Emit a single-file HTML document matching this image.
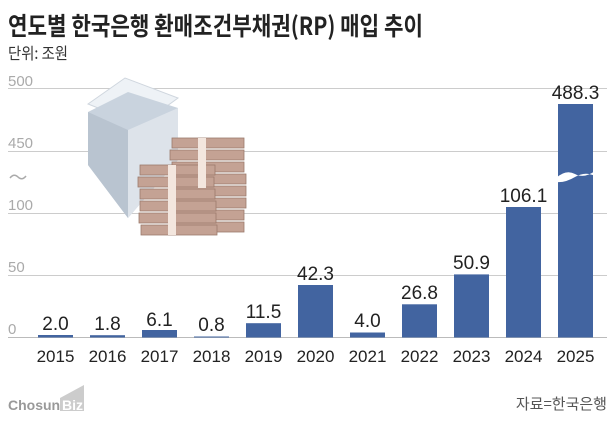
<!DOCTYPE html>
<html><head><meta charset="utf-8"><style>
body{margin:0;background:#fff;}
svg{display:block;font-family:"Liberation Sans","Noto Sans CJK KR",sans-serif;}
</style></head><body>
<svg width="616" height="425" viewBox="0 0 616 425">
<text x="8" y="35" font-size="25" font-weight="bold" fill="#222" textLength="415" lengthAdjust="spacingAndGlyphs" font-family="Noto Sans CJK KR, sans-serif">연도별 한국은행 환매조건부채권(RP) 매입 추이</text>
<text x="8" y="59" font-size="16" fill="#333" textLength="60" lengthAdjust="spacingAndGlyphs" font-family="Noto Sans CJK KR, sans-serif">단위: 조원</text>
<g stroke="#ccc" stroke-width="1">
<line x1="8" y1="88.5" x2="607" y2="88.5"/><line x1="8" y1="151.5" x2="607" y2="151.5"/>
<line x1="8" y1="213.5" x2="607" y2="213.5"/><line x1="8" y1="275.5" x2="607" y2="275.5"/>
<line x1="8" y1="337.5" x2="607" y2="337.5" stroke="#bbb"/>
</g>
<g font-size="15" fill="#aaa">
<text x="8" y="86">500</text><text x="8" y="148">450</text><text x="8" y="210">100</text><text x="8" y="272">50</text><text x="8" y="334">0</text>
</g>
<path d="M10 178 q4 -5 8 -1 t8 -1" stroke="#aaa" fill="none" stroke-width="1.5"/>
<polygon points="88,104 125,78 178,98 141,125" fill="#eef2f6" stroke="#cfd6de"/>
<polygon points="88,112 128,92 178,108 178,160 128,218 88,165" fill="#c9d3de"/>
<polygon points="88,112 128,130 128,218 88,165" fill="#b9c4d0"/>
<polygon points="128,130 178,108 178,160 128,218" fill="#dde3ea"/>
<g fill="#c4a294" stroke="#9b7a6c" stroke-width="0.8">
<rect x="172" y="138" width="72" height="10"/><rect x="170" y="150" width="74" height="10"/><rect x="172" y="162" width="72" height="10"/>
<rect x="174" y="174" width="72" height="10"/><rect x="172" y="186" width="74" height="10"/><rect x="174" y="198" width="72" height="10"/>
<rect x="172" y="210" width="72" height="10"/><rect x="174" y="222" width="70" height="10"/>
<rect x="140" y="165" width="75" height="10"/><rect x="138" y="177" width="76" height="10"/><rect x="140" y="189" width="75" height="10"/>
<rect x="140" y="201" width="76" height="10"/><rect x="139" y="213" width="77" height="10"/><rect x="141" y="225" width="76" height="10"/>
</g>
<rect x="168" y="165" width="8" height="70" fill="#f3e6de"/>
<rect x="198" y="138" width="8" height="50" fill="#f3e6de"/>
<g fill="#4264a0">
<rect x="38" y="335" width="35" height="2.5"/>
<rect x="90" y="335.2" width="35" height="2.3"/>
<rect x="142" y="330" width="35" height="7.5"/>
<rect x="194" y="336.5" width="35" height="1"/>
<rect x="246" y="323.2" width="35" height="14.3"/>
<rect x="298" y="285" width="35" height="52.5"/>
<rect x="350" y="332.5" width="35" height="5"/>
<rect x="402" y="304.3" width="35" height="33.2"/>
<rect x="454" y="274.4" width="35" height="63.1"/>
<rect x="506" y="207" width="35" height="130.5"/>
<rect x="558" y="104" width="35" height="233.5"/>
</g>
<path d="M556 178 q10 -9 19 -4 t20 -3 v5 q-10 -5 -20 1 t-19 5z" fill="#fff"/>
<g font-size="19" fill="#222" text-anchor="middle">
<text x="55.5" y="330">2.0</text><text x="107.5" y="330">1.8</text><text x="159.5" y="326">6.1</text>
<text x="211.5" y="331">0.8</text><text x="263.5" y="318">11.5</text><text x="315.5" y="280">42.3</text>
<text x="367.5" y="327">4.0</text><text x="419.5" y="299">26.8</text><text x="471.5" y="269">50.9</text>
<text x="523.5" y="202">106.1</text><text x="575.5" y="99">488.3</text>
</g>
<g font-size="17" fill="#222" text-anchor="middle">
<text x="55.5" y="362">2015</text><text x="107.5" y="362">2016</text><text x="159.5" y="362">2017</text>
<text x="211.5" y="362">2018</text><text x="263.5" y="362">2019</text><text x="315.5" y="362">2020</text>
<text x="367.5" y="362">2021</text><text x="419.5" y="362">2022</text><text x="471.5" y="362">2023</text>
<text x="523.5" y="362">2024</text><text x="575.5" y="362">2025</text>
</g>
<text x="8" y="410" font-size="14" fill="#999" font-weight="bold">Chosun</text>
<polygon points="60,398 84,385 84,411 60,411" fill="#ccc"/>
<text x="62" y="410" font-size="14" fill="#fff" font-weight="bold">Biz</text>
<text x="607" y="409" font-size="15" fill="#555" text-anchor="end" font-family="Noto Sans CJK KR, sans-serif">자료=한국은행</text>
</svg>
</body></html>
